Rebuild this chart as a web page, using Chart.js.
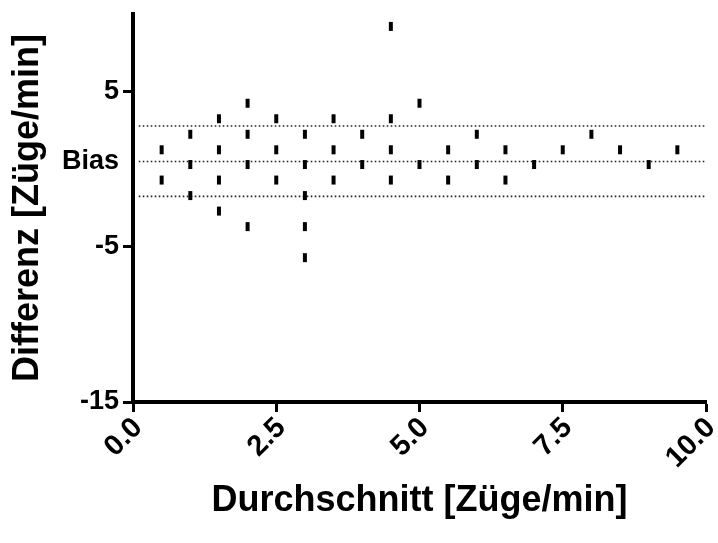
<!DOCTYPE html>
<html>
<head>
<meta charset="utf-8">
<script src="https://cdn.jsdelivr.net/npm/chart.js@4/dist/chart.umd.min.js"></script>
<style>
  html, body { margin: 0; padding: 0; background: #fff; }
  #wrap { width: 718px; height: 543px; }
</style>
</head>
<body>
<div id="wrap"><canvas id="chart" width="718" height="543"></canvas></div>
<script>
// Bland-Altman values
const averages = [
  0.5, 0.5,
  1, 1, 1,
  1.5, 1.5, 1.5, 1.5,
  2, 2, 2, 2,
  2.5, 2.5, 2.5,
  3, 3, 3, 3, 3,
  3.5, 3.5, 3.5,
  4, 4,
  4.5, 4.5, 4.5, 4.5,
  5, 5,
  5.5, 5.5,
  6, 6,
  6.5, 6.5,
  7,
  7.5,
  8,
  8.5,
  9,
  9.5
];
const differences = [
  1.25, -0.7,
  2.25, 0.3, -1.7,
  3.25, 1.25, -0.7, -2.7,
  4.25, 2.25, 0.3, -3.7,
  3.25, 1.25, -0.7,
  2.25, 0.3, -1.7, -3.7, -5.7,
  3.25, 1.25, -0.7,
  2.25, 0.3,
  9.2, 3.25, 1.25, -0.7,
  4.25, 0.3,
  1.25, -0.7,
  2.25, 0.3,
  1.25, -0.7,
  0.3,
  1.25,
  2.25,
  1.25,
  0.3,
  1.25
];
const biasValue = 0.5;
const upperLimit = 2.78;
const lowerLimit = -1.75;
const lineStart = 0.1;
const lineEnd = 10;
const yTicks = [-15, -5, 5];

const points = averages.map((a, i) => ({ x: a, y: differences[i] }));

function refLine(v) {
  return {
    type: 'line',
    data: [{ x: lineStart, y: v }, { x: lineEnd, y: v }],
    borderColor: '#222',
    borderWidth: 1.6,
    borderDash: [1.6, 2.4],
    pointRadius: 0,
    order: 1
  };
}

const boldFont = size => ({ family: '"Liberation Sans", Arial, sans-serif', size: size, weight: 'bold' });

new Chart(document.getElementById('chart').getContext('2d'), {
  type: 'scatter',
  data: {
    datasets: [
      {
        data: points,
        pointStyle: 'line',
        rotation: 90,
        radius: 4.5,
        borderWidth: 4,
        borderColor: '#000',
        backgroundColor: '#000',
        order: 0
      },
      refLine(upperLimit),
      refLine(biasValue),
      refLine(lowerLimit)
    ]
  },
  options: {
    responsive: false,
    animation: false,
    layout: { padding: { top: 14, right: 12, left: 0, bottom: 0 } },
    plugins: { legend: { display: false }, tooltip: { enabled: false } },
    scales: {
      x: {
        type: 'linear',
        min: 0,
        max: 10,
        border: { display: true, color: '#000', width: 4 },
        grid: { drawOnChartArea: false, drawTicks: true, tickLength: 10, tickWidth: 3, tickColor: '#000' },
        ticks: {
          stepSize: 2.5,
          autoSkip: false,
          maxRotation: 45,
          minRotation: 45,
          padding: -1,
          labelOffset: 5,
          color: '#000',
          font: boldFont(29),
          callback: v => v.toFixed(1)
        },
        title: {
          display: true,
          text: 'Durchschnitt [Züge/min]',
          color: '#000',
          font: boldFont(36),
          padding: { top: 0, bottom: 20 }
        },
        afterFit: scale => {
          scale.height = 141;
          scale.paddingLeft = 0;
          scale.paddingRight = 0;
        }
      },
      y: {
        type: 'linear',
        min: -15,
        max: 10,
        border: { display: true, color: '#000', width: 4 },
        grid: {
          drawOnChartArea: false,
          drawTicks: true,
          tickLength: 10,
          tickWidth: 3,
          tickColor: ctx => (ctx.tick && ctx.tick.value === biasValue ? 'rgba(0,0,0,0)' : '#000')
        },
        afterBuildTicks: scale => {
          scale.ticks = yTicks.concat([biasValue]).sort((a, b) => a - b).map(v => ({ value: v }));
        },
        ticks: {
          padding: 4,
          color: '#000',
          font: boldFont(27),
          callback: v => (v === biasValue ? 'Bias' : v)
        },
        title: {
          display: true,
          text: 'Differenz [Züge/min]',
          color: '#000',
          font: boldFont(36),
          padding: { top: 6, bottom: 0 }
        },
        afterFit: scale => {
          scale.width = 133;
          scale.paddingTop = 0;
          scale.paddingBottom = 0;
        }
      }
    }
  }
});
</script>
</body>
</html>
